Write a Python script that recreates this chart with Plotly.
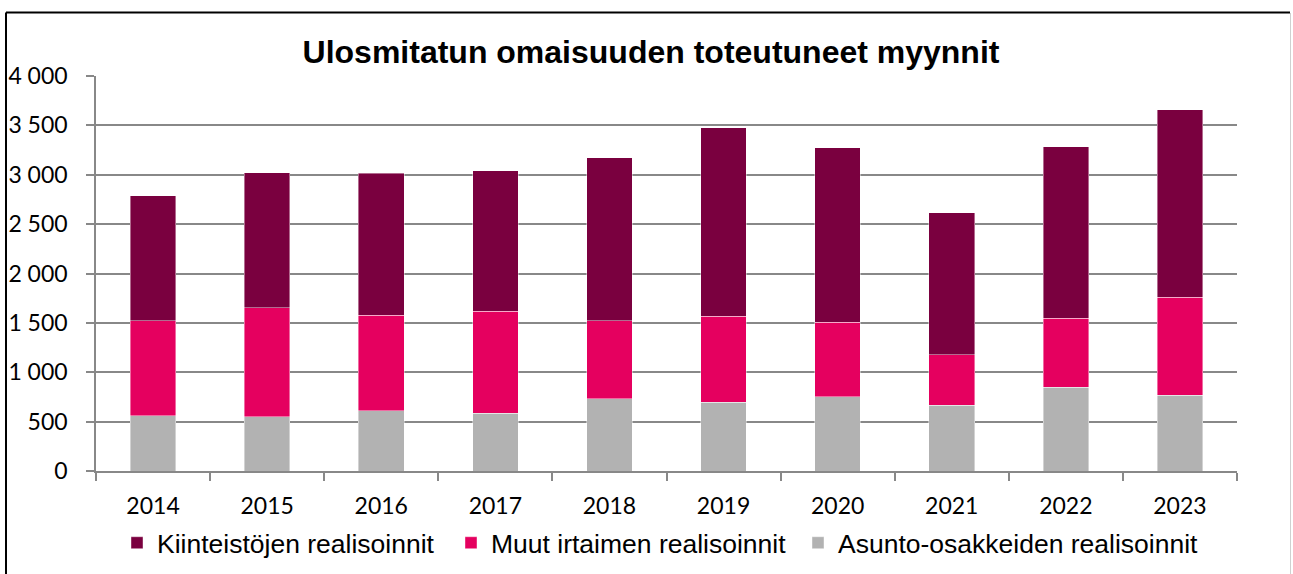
import plotly.graph_objects as go

years = ["2014", "2015", "2016", "2017", "2018", "2019", "2020", "2021", "2022", "2023"]
asunto = [560, 550, 610, 587, 732, 698, 752, 668, 850, 765]
irtain = [961, 1103, 969, 1032, 792, 867, 756, 509, 699, 996]
kiint = [1268, 1366, 1437, 1424, 1647, 1913, 1767, 1440, 1733, 1896]

names = ["Asunto-osakkeiden realisoinnit", "Muut irtaimen realisoinnit", "Kiinteistöjen realisoinnit"]
colors = ["#B2B2B2", "#E5005F", "#7A003F"]
title = "Ulosmitatun omaisuuden toteutuneet myynnit"

W, H = 1293, 574
L, R, T, B = 96, 1237, 76, 471
legend_ids = ["legend3", "legend2", "legend"]
legend_left = [813, 466, 132]

fig = go.Figure()
for n, v, c, lg in zip(names, [asunto, irtain, kiint], colors, legend_ids):
    fig.add_trace(go.Bar(x=years, y=v, name=n, legend=lg,
                         marker=dict(color=c, line=dict(width=0.6, color="rgba(255,255,255,0.7)"))))

legend_font = dict(family="Liberation Sans, Arial", size=26.5, color="black")
legends = {}
for lg, xl in zip(legend_ids, legend_left):
    legends[lg] = dict(orientation="h", x=(xl - 15) / W, xref="container", xanchor="left",
                       y=1 - 543 / H, yref="container", yanchor="middle",
                       font=legend_font, itemwidth=30, bgcolor="rgba(0,0,0,0)")

fig.update_layout(
    width=W, height=H,
    barmode="stack", bargap=0.6,
    paper_bgcolor="white", plot_bgcolor="white",
    margin=dict(l=L, r=W - R, t=T, b=H - B, autoexpand=False),
    separators=", ",
    title=dict(text="<b>" + title + "</b>", x=651 / W, xref="container", xanchor="center",
               y=1 - 52 / H, yref="container", yanchor="middle",
               font=dict(family="Liberation Sans, Arial", size=32, color="black")),
    font=dict(family="Lato", color="black"),
    showlegend=True,
    **legends,
)
fig.update_yaxes(range=[0, 4000], dtick=500, tickformat=",d",
                 showgrid=True, gridcolor="#888888", gridwidth=1.5,
                 showline=True, linecolor="#888888", linewidth=1.5,
                 ticks="outside", ticklen=8, tickcolor="#888888", tickwidth=1.5,
                 ticklabelstandoff=14,
                 tickfont=dict(family="Lato", size=23, color="black"), zeroline=False)
fig.update_xaxes(showline=True, linecolor="#888888", linewidth=1.5,
                 ticks="outside", ticklen=8, tickcolor="#888888", tickwidth=1.5, tickson="boundaries",
                 ticklabelstandoff=14,
                 tickfont=dict(family="Lato", size=23, color="black"))

# outer chart border
def px_x(x):
    return (x - L) / (R - L)

def px_y(y):
    return (B - y) / (B - T)

fig.add_shape(type="line", xref="paper", yref="paper", x0=px_x(6), x1=px_x(1290), y0=px_y(12.5), y1=px_y(12.5),
              line=dict(color="black", width=2))
fig.add_shape(type="line", xref="paper", yref="paper", x0=px_x(6), x1=px_x(6), y0=px_y(12.5), y1=px_y(580),
              line=dict(color="black", width=2))
fig.add_shape(type="line", xref="paper", yref="paper", x0=px_x(1290.5), x1=px_x(1290.5), y0=px_y(13), y1=px_y(580),
              line=dict(color="#D0D0D0", width=1))

fig.write_html("out.html", config={"displayModeBar": False},
               post_script="document.body.style.margin='0px';document.body.style.overflow='hidden';")
